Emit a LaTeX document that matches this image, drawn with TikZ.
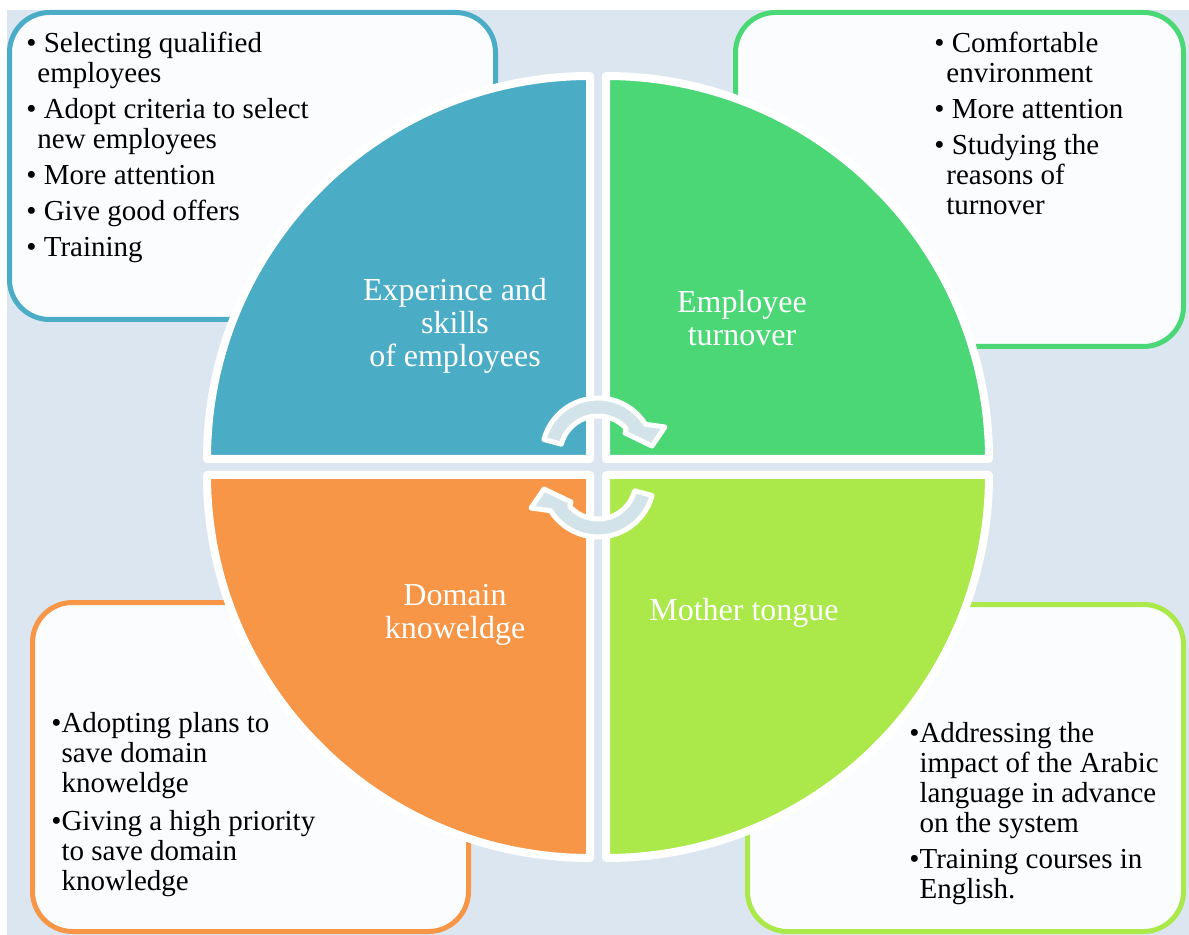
\documentclass[tikz,border=0pt]{standalone}
\usepackage{fontspec}
\setmainfont{Liberation Serif}

\definecolor{qblue}{HTML}{4BACC6}
\definecolor{qgreen}{HTML}{4BD775}
\definecolor{qorange}{HTML}{F79646}
\definecolor{qlime}{HTML}{ABE84A}
\definecolor{backblue}{HTML}{DCE6F1}
\definecolor{arrowfill}{HTML}{D3E3EA}
\definecolor{boxfill}{HTML}{FAFCFE}

\begin{document}
\begin{tikzpicture}[
	x=0.5pt, y=0.5pt,
	sector/.style={draw=white, line width=4pt, line join=round},
	infobox/.style={draw, line width=2.5pt, fill=boxfill, rounded corners=20pt},
	quadtext/.style={text=white, align=center, inner sep=0pt, font=\fontsize{16}{16.5}\selectfont},
	boxtext/.style={anchor=north west, align=left, inner sep=0pt, font=\fontsize{14.5}{15}\selectfont},
	turnarrow/.style={fill=arrowfill, draw=white, line width=2.5pt, line join=round},
	cyclearrow/.pic={
		\filldraw[turnarrow] (165:56) arc[start angle=165, end angle=32, radius=56]
			-- (67,27) -- (54,8) -- (27,21)
			-- (42:38) arc[start angle=42, end angle=165, radius=38] -- cycle;
	}
	]
	
	%-----------------------
	% Customizable sizes
	%-----------------------
	\def\rad{383}   % quarter radius
	
	%-----------------------
	% Background
	%-----------------------
	\useasboundingbox (0,0) rectangle (1189,-935);
	\fill[white] (0,0) rectangle (1189,-935);
	\fill[backblue] (7,-10) rectangle (1189,-935);
	
	%-----------------------
	% Side boxes
	%-----------------------
	\draw[infobox, draw=qblue] (9.5,-12.5) rectangle (495.5,-319.5);
	\draw[infobox, draw=qgreen] (735.5,-12.5) rectangle (1183.5,-346.5);
	\draw[infobox, draw=qorange] (32.5,-602.5) rectangle (468.5,-931.5);
	\draw[infobox, draw=qlime] (747.5,-604.5) rectangle (1183.5,-931.5);
	
	%-----------------------
	% Quarters
	%-----------------------
	\filldraw[sector, fill=qblue] (590,-459) -- ++(-\rad,0) arc[start angle=180, end angle=90, radius=\rad] -- cycle;
	\filldraw[sector, fill=qgreen] (606,-459) -- ++(0,\rad) arc[start angle=90, end angle=0, radius=\rad] -- cycle;
	\filldraw[sector, fill=qorange] (590,-475) -- ++(0,-\rad) arc[start angle=270, end angle=180, radius=\rad] -- cycle;
	\filldraw[sector, fill=qlime] (606,-475) -- ++(\rad,0) arc[start angle=0, end angle=-90, radius=\rad] -- cycle;
	
	%-----------------------
	% Turning arrows
	%-----------------------
	\pic at (598,-454) {cyclearrow};
	\pic[rotate=180] at (598,-481) {cyclearrow};
	
	%-----------------------
	% Quarter labels
	%-----------------------
	\node[quadtext] (skills) at (455,-326) {Experince and\\skills\\of employees};
	\node[quadtext] (turnover) at (742,-318) {Employee\\turnover};
	\node[quadtext] (domain) at (455,-615) {Domain\\knoweldge};
	\node[quadtext] (tongue) at (744,-613) {Mother tongue};
	
	%-----------------------
	% Box texts
	%-----------------------
	\node[boxtext] (skillslist) at (26,-32) {%
		\textbullet\ Selecting qualified\\
		\hspace*{5.5pt}employees\\[3pt]
		\textbullet\ Adopt criteria to select\\
		\hspace*{5.5pt}new employees\\[3pt]
		\textbullet\ More attention\\[3pt]
		\textbullet\ Give good offers\\[3pt]
		\textbullet\ Training};
	
	\node[boxtext] (turnoverlist) at (934,-32) {%
		\textbullet\ Comfortable\\
		\hspace*{6pt}environment\\[3pt]
		\textbullet\ More attention\\[3pt]
		\textbullet\ Studying the\\
		\hspace*{6pt}reasons of\\
		\hspace*{6pt}turnover};
	
	\node[boxtext] (domainlist) at (51,-712) {%
		\textbullet Adopting plans to\\
		\hphantom{\textbullet}save domain\\
		\hphantom{\textbullet}knoweldge\\[4pt]
		\textbullet Giving a high priority\\
		\hphantom{\textbullet}to save domain\\
		\hphantom{\textbullet}knowledge};
	
	\node[boxtext] (tonguelist) at (909,-722) {%
		\textbullet Addressing the\\
		\hphantom{\textbullet}impact of the Arabic\\
		\hphantom{\textbullet}language in advance\\
		\hphantom{\textbullet}on the system\\[3pt]
		\textbullet Training courses in\\
		\hphantom{\textbullet}English.};
	
\end{tikzpicture}
\end{document}
